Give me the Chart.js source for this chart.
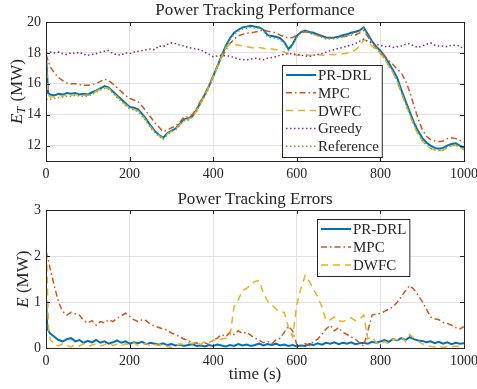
<!DOCTYPE html>
<html>
<head>
<meta charset="utf-8">
<script src="https://cdn.jsdelivr.net/npm/chart.js@4.4.1/dist/chart.umd.min.js"></script>
<style>
  html, body { margin: 0; padding: 0; background: #fff; overflow: hidden; }
  #top { position: absolute; left: 0; top: 0; width: 477px; height: 189px; }
  #bottom { position: absolute; left: 0; top: 189px; width: 477px; height: 200px; }
</style>
</head>
<body>
<div id="top"><canvas id="perfChart"></canvas></div>
<div id="bottom"><canvas id="errChart"></canvas></div>
<script>
// time axis (s) for the power traces
const timePower = [0, 5, 10, 20, 30, 40, 50, 60, 70, 80, 90, 100,
  110, 120, 130, 140, 150, 160, 170, 180, 190, 200, 210, 220, 230, 240, 250, 260, 270, 280, 290, 300,
  310, 320, 330, 340, 350, 360, 370, 380, 390, 400, 410, 420, 430, 440, 450, 460, 470, 480, 490, 500,
  510, 520, 530, 540, 550, 560, 570, 580, 590, 600, 610, 620, 630, 640, 650, 660, 670, 680, 690, 700,
  710, 720, 730, 740, 750, 760, 770, 780, 790, 800, 810, 820, 830, 840, 850, 860, 870, 880, 890, 900,
  910, 920, 930, 940, 950, 960, 970, 980, 990, 1000];

const prdrlPower = [17.9, 15.4, 15.3, 15.25, 15.35, 15.3, 15.4, 15.35, 15.4, 15.3, 15.35, 15.3,
  15.45, 15.55, 15.7, 15.85, 15.75, 15.5, 15.25, 15.0, 14.75, 14.5, 14.45, 14.35, 14.05, 13.7, 13.3, 12.95, 12.7, 12.5, 12.8, 12.95,
  13.1, 13.4, 13.7, 13.75, 13.9, 14.3, 14.8, 15.3, 15.85, 16.5, 17.15, 17.8, 18.45, 18.95, 19.3, 19.5, 19.65, 19.7, 19.75, 19.7,
  19.65, 19.5, 19.15, 19.1, 19.05, 18.95, 18.7, 18.25, 18.55, 19.1, 19.35, 19.45, 19.35, 19.3, 19.2, 19.1, 19.0, 18.98, 19.0, 19.05,
  19.15, 19.2, 19.3, 19.37, 19.45, 19.65, 19.2, 18.75, 18.4, 18.15, 17.8, 17.35, 16.9, 16.4, 15.6, 14.9, 14.2, 13.5, 12.95, 12.5,
  12.2, 12.0, 11.85, 11.8, 11.85, 12.0, 12.1, 12.15, 12.0, 11.85];

const mpcPower = [17.9, 17.5, 17.1, 16.7, 16.4, 16.2, 16.05, 16.0, 16.0, 15.95, 15.9, 15.9,
  15.95, 16.0, 16.15, 16.3, 16.2, 16.0, 15.75, 15.5, 15.25, 15.05, 14.95, 14.85, 14.55, 14.2, 13.85, 13.5, 13.2, 12.9, 13.0, 13.15,
  13.25, 13.5, 13.85, 13.85, 14.0, 14.4, 14.9, 15.35, 15.9, 16.5, 17.1, 17.65, 18.2, 18.6, 18.9, 19.1, 19.2, 19.27, 19.3, 19.35,
  19.4, 19.5, 19.4, 19.35, 19.3, 19.15, 19.05, 18.95, 19.0, 19.15, 19.3, 19.37, 19.3, 19.2, 19.15, 19.05, 18.95, 18.95, 18.95, 19.0,
  19.05, 19.1, 19.15, 19.15, 19.3, 19.45, 19.05, 18.6, 18.35, 18.05, 17.8, 17.5, 17.25, 16.95, 16.7, 16.2, 15.5, 14.6, 13.75, 13.05,
  12.6, 12.4, 12.3, 12.25, 12.3, 12.45, 12.5, 12.45, 12.35, 12.2];

const dwfcPower = [17.6, 15.3, 15.15, 15.15, 15.25, 15.2, 15.3, 15.25, 15.3, 15.25, 15.25, 15.25,
  15.35, 15.5, 15.65, 15.75, 15.7, 15.45, 15.15, 14.9, 14.65, 14.45, 14.35, 14.25, 13.95, 13.6, 13.2, 12.9, 12.65, 12.45, 12.75, 12.9,
  13.05, 13.35, 13.65, 13.7, 13.85, 14.25, 14.75, 15.25, 15.8, 16.45, 17.1, 17.75, 18.35, 18.55, 18.55, 18.5, 18.45, 18.4, 18.35, 18.3,
  18.35, 18.3, 18.25, 18.25, 18.2, 18.15, 18.05, 17.95, 17.9, 17.85, 17.85, 17.9, 17.85, 17.85, 17.9, 17.85, 17.85, 17.88, 17.9, 17.92,
  17.95, 17.98, 18.05, 18.2, 18.4, 18.85, 18.75, 18.45, 18.2, 17.95, 17.6, 17.15, 16.7, 16.15, 15.4, 14.7, 14.0, 13.3, 12.75, 12.3,
  12.0, 11.82, 11.7, 11.66, 11.7, 11.85, 11.98, 12.02, 11.88, 11.72];

const greedyPower = [18.0, 18.05, 18.05, 18.0, 18.05, 17.95, 17.9, 18.0, 17.95, 18.05, 17.9, 17.85,
  17.9, 17.95, 18.05, 18.1, 18.15, 17.95, 17.9, 17.85, 18.0, 17.95, 18.05, 18.1, 18.15, 18.2, 18.25, 18.2, 18.45, 18.4, 18.55, 18.65,
  18.6, 18.5, 18.45, 18.35, 18.3, 18.25, 18.2, 18.05, 17.9, 17.75, 17.8, 17.85, 17.8, 17.8, 17.7, 17.6, 17.55, 17.55, 17.6, 17.65,
  17.6, 17.55, 17.65, 17.7, 17.75, 17.85, 17.9, 17.95, 17.95, 17.9, 17.85, 17.8, 17.75, 17.85, 17.9, 17.95, 18.05, 18.15, 18.2, 18.3,
  18.35, 18.45, 18.5, 18.6, 18.75, 18.9, 18.75, 18.65, 18.55, 18.5, 18.4, 18.45, 18.35, 18.4, 18.45, 18.55, 18.6, 18.45, 18.35, 18.45,
  18.55, 18.65, 18.5, 18.45, 18.45, 18.4, 18.5, 18.5, 18.45, 18.2];

const referencePower = [15.0, 15.0, 15.0, 15.05, 15.1, 15.15, 15.2, 15.2, 15.25, 15.2, 15.2, 15.2,
  15.3, 15.45, 15.6, 15.7, 15.65, 15.4, 15.1, 14.85, 14.6, 14.4, 14.3, 14.2, 13.9, 13.55, 13.15, 12.85, 12.6, 12.4, 12.7, 12.9,
  13.0, 13.3, 13.6, 13.65, 13.85, 14.2, 14.7, 15.2, 15.75, 16.4, 17.05, 17.7, 18.35, 18.85, 19.2, 19.4, 19.55, 19.6, 19.65, 19.6,
  19.6, 19.45, 19.05, 19.0, 18.95, 18.85, 18.6, 18.15, 18.45, 19.0, 19.3, 19.4, 19.3, 19.2, 19.1, 19.0, 18.9, 18.9, 18.92, 18.95,
  19.05, 19.1, 19.2, 19.3, 19.4, 19.6, 19.1, 18.65, 18.3, 18.0, 17.65, 17.2, 16.75, 16.2, 15.45, 14.75, 14.05, 13.35, 12.8, 12.35,
  12.05, 11.85, 11.72, 11.68, 11.72, 11.88, 12.0, 12.05, 11.9, 11.75];

// time axis (s) for the tracking errors
const timeError = [0, 3, 6, 10, 20, 30, 40, 50, 60, 70, 80, 90, 100,
  110, 120, 130, 140, 150, 160, 170, 180, 190, 200, 210, 220, 230, 240, 250, 260, 270, 280, 290, 300,
  310, 320, 330, 340, 350, 360, 370, 380, 390, 400, 410, 420, 430, 440, 450, 460, 470, 480, 490, 500,
  510, 520, 530, 540, 550, 560, 570, 580, 590, 600, 610, 620, 630, 640, 650, 660, 670, 680, 690, 700,
  710, 720, 730, 740, 750, 760, 770, 780, 790, 800, 810, 820, 830, 840, 850, 860, 870, 880, 890, 900,
  910, 920, 930, 940, 950, 960, 970, 980, 990, 1000];

const prdrlError = [1.1, 0.45, 0.38, 0.32, 0.25, 0.18, 0.15, 0.2, 0.22, 0.15, 0.18, 0.12, 0.16,
  0.13, 0.18, 0.12, 0.15, 0.1, 0.13, 0.17, 0.12, 0.15, 0.1, 0.13, 0.11, 0.14, 0.09, 0.12, 0.1, 0.08, 0.11, 0.07, 0.09,
  0.06, 0.08, 0.05, 0.07, 0.09, 0.05, 0.06, 0.04, 0.07, 0.05, 0.08, 0.06, 0.04, 0.07, 0.05, 0.09, 0.06, 0.08, 0.05, 0.07,
  0.1, 0.06, 0.09, 0.07, 0.1, 0.06, 0.08, 0.05, 0.07, 0.04, 0.06, 0.05, 0.09, 0.07, 0.11, 0.08, 0.12, 0.1, 0.13, 0.09,
  0.12, 0.1, 0.13, 0.09, 0.11, 0.12, 0.1, 0.14, 0.12, 0.15, 0.18, 0.14, 0.2, 0.17, 0.22, 0.18, 0.24, 0.2, 0.17, 0.16,
  0.13, 0.15, 0.11, 0.14, 0.1, 0.13, 0.09, 0.12, 0.1, 0.11];

const mpcError = [2.1, 2.0, 1.9, 1.72, 1.35, 1.0, 0.8, 0.72, 0.78, 0.75, 0.72, 0.6, 0.55,
  0.6, 0.5, 0.58, 0.55, 0.62, 0.58, 0.65, 0.7, 0.76, 0.7, 0.62, 0.58, 0.62, 0.6, 0.52, 0.48, 0.45, 0.42, 0.4, 0.33,
  0.3, 0.25, 0.2, 0.18, 0.1, 0.12, 0.06, 0.12, 0.08, 0.18, 0.22, 0.3, 0.25, 0.35, 0.3, 0.38, 0.32, 0.35, 0.28, 0.22,
  0.18, 0.12, 0.15, 0.1, 0.18, 0.22, 0.35, 0.48, 0.38, 0.08, 0.05, 0.1, 0.06, 0.15, 0.2, 0.3, 0.42, 0.5, 0.38, 0.45,
  0.35, 0.3, 0.25, 0.2, 0.12, 0.05, 0.38, 0.72, 0.74, 0.76, 0.8, 0.85, 0.9, 1.0, 1.12, 1.25, 1.36, 1.28, 1.15, 1.02,
  0.85, 0.68, 0.64, 0.62, 0.56, 0.54, 0.5, 0.45, 0.42, 0.47];

const dwfcError = [2.6, 1.5, 0.45, 0.2, 0.08, 0.05, 0.1, 0.06, 0.03, 0.08, 0.05, 0.1, 0.04,
  0.07, 0.1, 0.05, 0.08, 0.12, 0.06, 0.09, 0.05, 0.1, 0.07, 0.12, 0.06, 0.09, 0.1, 0.05, 0.08, 0.06, 0.1, 0.04, 0.02,
  0.06, 0.1, 0.08, 0.12, 0.1, 0.14, 0.08, 0.15, 0.12, 0.18, 0.15, 0.2, 0.22, 0.25, 0.9, 1.05, 1.25, 1.3, 1.38, 1.45,
  1.47, 1.2, 1.02, 0.95, 0.85, 0.8, 0.78, 0.45, 0.25, 0.95, 1.3, 1.58, 1.45, 1.28, 1.12, 0.9, 0.6, 0.62, 0.68, 0.6,
  0.58, 0.62, 0.66, 0.6, 0.63, 0.72, 0.2, 0.25, 0.12, 0.08, 0.15, 0.1, 0.2, 0.18, 0.25, 0.15, 0.3, 0.22, 0.15, 0.1,
  0.06, 0.04, 0.03, 0.05, 0.02, 0.04, 0.03, 0.05, 0.03, 0.04];

const timeTicks = [0, 200, 400, 600, 800, 1000];
const powerTicks = [12, 14, 16, 18, 20];
const errorTicks = [0, 1, 2, 3];

const ink = '#262626';
const gridColor = '#e3e3e3';
const serif = '"Liberation Serif", "Times New Roman", serif';
const colors = { prdrl: '#0072BD', mpc: '#D95319', dwfc: '#EDB120', greedy: '#7E2F8E', ref: '#77AC30' };

const pts = (t, v) => t.map((x, i) => ({ x, y: v[i] }));

// closed box, inward tick marks on all four sides
const axesBox = {
  id: 'axesBox',
  afterDatasetsDraw(chart) {
    const { ctx, chartArea: a, scales } = chart;
    ctx.save();
    ctx.strokeStyle = ink;
    ctx.lineWidth = 1;
    ctx.beginPath();
    scales.x.ticks.forEach(t => {
      const px = Math.round(scales.x.getPixelForValue(t.value)) + 0.5;
      ctx.moveTo(px, a.bottom); ctx.lineTo(px, a.bottom - 4);
      ctx.moveTo(px, a.top); ctx.lineTo(px, a.top + 4);
    });
    scales.y.ticks.forEach(t => {
      const py = Math.round(scales.y.getPixelForValue(t.value)) + 0.5;
      ctx.moveTo(a.left, py); ctx.lineTo(a.left + 4, py);
      ctx.moveTo(a.right, py); ctx.lineTo(a.right - 4, py);
    });
    ctx.stroke();
    ctx.strokeRect(Math.round(a.left) + 0.5, Math.round(a.top) + 0.5, Math.round(a.width), Math.round(a.height));
    ctx.restore();
  }
};

// vertical axis label with italic symbol and optional subscript
const yLabel = {
  id: 'yLabel',
  afterDraw(chart, args, opts) {
    const { ctx, chartArea: a } = chart;
    const size = 17;
    const fItalic = `italic ${size}px ${serif}`;
    const fSub = `italic ${Math.round(size * 0.7)}px ${serif}`;
    const fUp = `${size}px ${serif}`;
    ctx.save();
    ctx.translate(opts.x, (a.top + a.bottom) / 2);
    ctx.rotate(-Math.PI / 2);
    ctx.fillStyle = ink;
    ctx.textBaseline = 'alphabetic';
    ctx.font = fItalic; const w1 = ctx.measureText(opts.symbol).width;
    ctx.font = fSub; const w2 = opts.sub ? ctx.measureText(opts.sub).width + 1 : 0;
    ctx.font = fUp; const w3 = ctx.measureText(opts.unit).width;
    let x = -(w1 + w2 + w3) / 2;
    const base = size * 0.33;
    ctx.font = fItalic; ctx.fillText(opts.symbol, x, base); x += w1;
    if (opts.sub) { ctx.font = fSub; ctx.fillText(opts.sub, x, base + size * 0.22); x += w2; }
    ctx.font = fUp; ctx.fillText(opts.unit, x, base);
    ctx.restore();
  }
};

// boxed legend placed inside the axes
const boxLegend = {
  id: 'boxLegend',
  afterDraw(chart, args, opts) {
    const { ctx } = chart;
    const sets = chart.data.datasets;
    ctx.save();
    ctx.font = `15px ${serif}`;
    const textW = Math.max(...sets.map(d => ctx.measureText(d.label).width));
    const w = 36 + textW + 3;
    const h = sets.length * opts.rowHeight + 3;
    ctx.fillStyle = '#fff';
    ctx.fillRect(opts.left, opts.top, w, h);
    ctx.strokeStyle = ink;
    ctx.lineWidth = 1;
    ctx.strokeRect(opts.left + 0.5, opts.top + 0.5, w, h);
    sets.forEach((d, i) => {
      const y = opts.top + 10 + i * opts.rowHeight;
      ctx.beginPath();
      ctx.setLineDash(d.borderDash || []);
      ctx.strokeStyle = d.borderColor;
      ctx.lineWidth = d.borderWidth;
      ctx.moveTo(opts.left + 4, y);
      ctx.lineTo(opts.left + 34, y);
      ctx.stroke();
      ctx.setLineDash([]);
      ctx.fillStyle = ink;
      ctx.textBaseline = 'middle';
      ctx.fillText(d.label, opts.left + 36, y + 1);
    });
    ctx.restore();
  }
};

const line = (label, t, v, color, dash, width, order) => ({
  label, data: pts(t, v), borderColor: color, backgroundColor: color,
  borderDash: dash, borderWidth: width, pointRadius: 0, tension: 0, fill: false, order
});

const xScale = (height) => ({
  type: 'linear', min: 0, max: 1000,
  afterBuildTicks: s => { s.ticks = timeTicks.map(v => ({ value: v })); },
  grid: { color: gridColor, drawTicks: false },
  border: { display: false },
  ticks: { color: ink, font: { family: serif, size: 14 }, padding: 5, maxRotation: 0, autoSkip: false, callback: v => String(v) },
  afterFit: s => { s.height = height; s.paddingLeft = 0; s.paddingRight = 0; }
});

const yScale = (min, max, ticks) => ({
  min, max,
  afterBuildTicks: s => { s.ticks = ticks.map(v => ({ value: v })); },
  grid: { color: gridColor, drawTicks: false },
  border: { display: false },
  ticks: { color: ink, font: { family: serif, size: 14 }, padding: 5, callback: v => String(v) },
  afterFit: s => { s.width = 46; }
});

// title spans only the plot area so it sits centred over the axes
const titleOpts = (text, bottom) => ({
  display: true, text, color: ink, fullSize: false,
  font: { family: serif, size: 17, weight: 'normal', lineHeight: 1.2 },
  padding: { top: 0, bottom }
});

new Chart(document.getElementById('perfChart'), {
  type: 'line',
  data: {
    datasets: [
      line('PR-DRL', timePower, prdrlPower, colors.prdrl, [], 2, 5),
      line('MPC', timePower, mpcPower, colors.mpc, [6, 3, 1.5, 3], 1.5, 4),
      line('DWFC', timePower, dwfcPower, colors.dwfc, [7, 5], 1.5, 3),
      line('Greedy', timePower, greedyPower, colors.greedy, [1.5, 2.5], 1.5, 2),
      line('Reference', timePower, referencePower, colors.ref, [1.5, 2.5], 1.5, 1)
    ]
  },
  options: {
    responsive: true, maintainAspectRatio: false, animation: false,
    layout: { padding: { left: 0, right: 13, top: 0, bottom: 0 } },
    scales: { x: xScale(28), y: yScale(11, 20, powerTicks) },
    plugins: {
      title: titleOpts('Power Tracking Performance', 1.6),
      legend: { display: false },
      tooltip: { enabled: false },
      yLabel: { x: 16, symbol: 'E', sub: 'T', unit: ' (MW)' },
      boxLegend: { left: 282, top: 65, rowHeight: 17.8 }
    }
  },
  plugins: [axesBox, yLabel, boxLegend]
});

const errX = xScale(40.7);
errX.title = { display: true, text: 'time (s)', color: ink, font: { family: serif, size: 17, lineHeight: 1.2 }, padding: { top: 0, bottom: 3.8 } };

new Chart(document.getElementById('errChart'), {
  type: 'line',
  data: {
    datasets: [
      line('PR-DRL', timeError, prdrlError, colors.prdrl, [], 2, 3),
      line('MPC', timeError, mpcError, colors.mpc, [6, 3, 1.5, 3], 1.5, 2),
      line('DWFC', timeError, dwfcError, colors.dwfc, [7, 5], 1.5, 1)
    ]
  },
  options: {
    responsive: true, maintainAspectRatio: false, animation: false,
    layout: { padding: { left: 0, right: 13, top: 0, bottom: 0 } },
    scales: { x: errX, y: yScale(0, 3, errorTicks) },
    plugins: {
      title: titleOpts('Power Tracking Errors', 0.6),
      legend: { display: false },
      tooltip: { enabled: false },
      yLabel: { x: 22, symbol: 'E', unit: ' (MW)' },
      boxLegend: { left: 317, top: 30, rowHeight: 18 }
    }
  },
  plugins: [axesBox, yLabel, boxLegend]
});
</script>
</body>
</html>
